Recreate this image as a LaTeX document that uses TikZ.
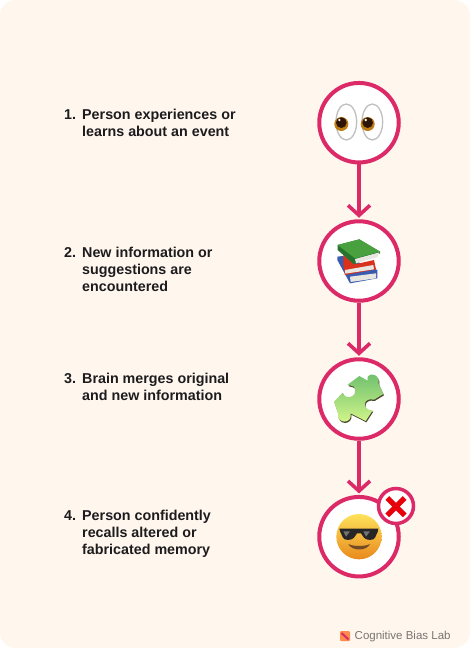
\documentclass[tikz,border=0pt]{standalone}
\usepackage{fontspec}
\setmainfont{Liberation Sans}
\usepackage{tikz}
\usetikzlibrary{arrows.meta,positioning,calc}
\definecolor{creampage}{RGB}{255,246,238}
\definecolor{rosered}{RGB}{220,42,104}
\definecolor{inkdark}{RGB}{28,28,30}
\definecolor{footgrey}{RGB}{122,115,112}
\definecolor{irisgold}{RGB}{190,125,20}
\definecolor{pupildark}{RGB}{45,20,5}
\definecolor{bookgreen}{RGB}{72,160,62}
\definecolor{bookshade}{RGB}{38,115,45}
\definecolor{bookred}{RGB}{216,50,28}
\definecolor{bookblue}{RGB}{58,92,176}
\definecolor{pagegrey}{RGB}{232,230,225}
\definecolor{puzzletop}{RGB}{108,190,108}
\definecolor{puzzlelow}{RGB}{214,248,140}
\definecolor{faceyellow}{RGB}{255,226,90}
\definecolor{facemid}{RGB}{251,192,45}
\definecolor{faceorange}{RGB}{232,137,28}
\definecolor{crossred}{RGB}{232,0,10}
\tikzset{
    stepcircle/.style={circle, draw=rosered, line width=4pt, fill=white, minimum size=79.5pt, inner sep=0pt},
    badgecircle/.style={circle, draw=rosered, line width=3.5pt, fill=white, minimum size=35pt, inner sep=0pt},
    flowarrow/.style={draw=rosered, line width=3.6pt, shorten >=1.5pt, -{Straight Barb[length=10pt,width=22pt,line width=3.6pt]}},
    steptext/.style={anchor=north west, inner sep=0pt, align=left, text=inkdark, font=\fontsize{14.3}{17}\selectfont\bfseries},
    puzzlepath/.style={insert path={
        (143,104) -- (178,78) -- (203,92) .. controls (195,66) and (242,66) .. (236,102)
        -- (250,132) -- (222,149) .. controls (188,140) and (184,182) .. (218,181) -- (197,213)
        -- (152,190) .. controls (158,224) and (108,222) .. (114,190) -- (102,155) -- (128,128)
        .. controls (134,152) and (178,142) .. (162,110) -- cycle}},
}

\begin{document}
\begin{tikzpicture}[x=1pt,y=-1pt]
    \useasboundingbox (0,0) rectangle (470,648);
    \fill[white] (0,0) rectangle (470,648);
    \fill[creampage, rounded corners=16pt] (0,0) rectangle (470,648);

    % step labels
    \node[steptext] (num1) at (64,107) {\strut 1.};
    \node[steptext] (label1) at (82,109) {Person experiences or\\learns about an event};
    \node[steptext] (num2) at (64,245) {\strut 2.};
    \node[steptext] (label2) at (82,247) {New information or\\suggestions are\\encountered};
    \node[steptext] (num3) at (64,371) {\strut 3.};
    \node[steptext] (label3) at (82,373) {Brain merges original\\and new information};
    \node[steptext] (num4) at (64,508) {\strut 4.};
    \node[steptext] (label4) at (82,510) {Person confidently\\recalls altered or\\fabricated memory};

    % circles and arrows
    \foreach \i/\y in {1/122.7,2/261,3/399,4/536.7}
        \node[stepcircle] (circle\i) at (359,\y) {};
    \foreach \i/\j in {1/2,2/3,3/4}
        \draw[flowarrow] (circle\i) -- (circle\j);
    \node[badgecircle] (badge) at (396,506) {};

    % eyes
    \begin{scope}[shift={(300,70)},scale=1/3]
        \foreach \ex/\ix in {139/124,217/203} {
            \fill[white] (\ex,156) ellipse (33 and 56);
            \draw[black!25, line width=1.3pt] (\ex,156) ellipse (31 and 54);
            \fill[irisgold] (\ix,162) circle (21);
            \fill[pupildark] (\ix,158) circle (16);
            \fill[white] (\ix-6,150) circle (4);
        }
    \end{scope}

    % books
    \begin{scope}[shift={(300,210)},scale=1/3]
        \fill[bookblue] (112,140) -- (128,138) -- (232,180) -- (232,205) -- (150,220) -- (112,150) -- cycle;
        \fill[pagegrey] (150,200) -- (228,190) -- (228,205) -- (152,216) -- cycle;
        \fill[bookred] (130,135) -- (165,163) -- (222,150) -- (228,178) -- (135,195) -- (130,165) -- cycle;
        \fill[pagegrey] (135,180) -- (220,165) -- (222,178) -- (136,191) -- cycle;
        \fill[bookshade] (113,105) -- (113,120) -- (162,163) -- (240,130) -- (240,125) -- (178,88) -- cycle;
        \fill[pagegrey] (165,147) -- (238,127) -- (232,141) -- (168,160) -- cycle;
        \fill[bookgreen] (113,105) -- (178,88) -- (240,125) -- (165,145) -- cycle;
    \end{scope}

    % puzzle piece
    \begin{scope}[shift={(300,350)},scale=1/3]
        \fill[black!60!olive, shift={(2,4)}, puzzlepath];
        \shade[top color=puzzletop, bottom color=puzzlelow, puzzlepath];
    \end{scope}

    % smiley and cross
    \begin{scope}[shift={(300,470)},scale=1/3]
        \shade[top color=faceyellow, middle color=facemid, bottom color=faceorange] (177,200) circle (68);
        \fill[black!85] (118,176) -- (235,176) -- (233,186) -- (225,203) .. controls (222,212) and (198,212) .. (192,203) -- (183,190) -- (171,190) -- (162,203) .. controls (156,212) and (132,212) .. (129,203) -- (121,186) -- cycle;
        \fill[black!55] (130,184) -- (150,184) -- (138,200) -- cycle;
        \fill[black!55] (190,184) -- (210,184) -- (198,200) -- cycle;
        \fill[brown!60!black] (145,222) .. controls (160,230) and (195,230) .. (210,222) .. controls (200,244) and (155,244) .. (145,222) -- cycle;
        \draw[crossred, line width=5.3pt] (262,84) -- (314,136);
        \draw[crossred, line width=5.3pt] (314,84) -- (262,136);
    \end{scope}

    % footer
    \node[anchor=west, inner sep=0pt, text=footgrey, font=\fontsize{11.5}{14}\selectfont] (footer) at (354.5,637) {Cognitive Bias Lab};
    \fill[orange!70!red!70, rounded corners=1pt] (340,631) rectangle (350,641);
    \draw[rosered, line width=2pt] (341.5,633) -- (348.5,639.5);
\end{tikzpicture}
\end{document}
